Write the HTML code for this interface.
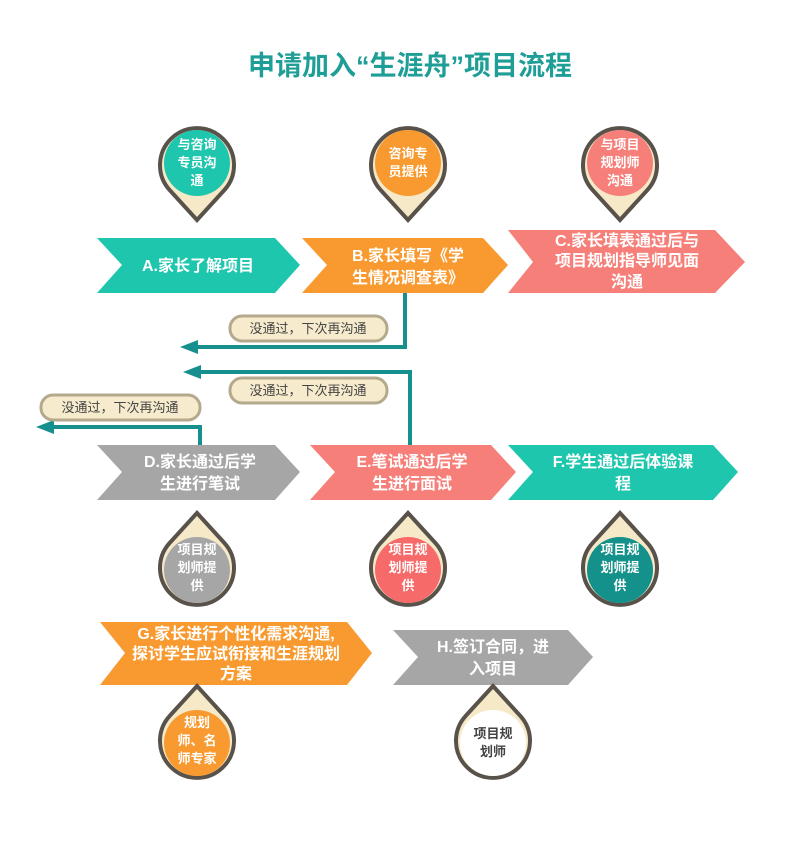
<!DOCTYPE html>
<html><head><meta charset="utf-8"><style>
body{margin:0;background:#fff}
svg text{font-family:"Liberation Sans","Noto Sans CJK SC",sans-serif;font-weight:bold}
</style></head><body>
<svg width="800" height="861" viewBox="0 0 800 861" xmlns="http://www.w3.org/2000/svg">
<text x="410" y="75" text-anchor="middle" font-size="27" fill="#1e9e96">申请加入“生涯舟”项目流程</text>
<g font-size="16" fill="#fff" text-anchor="middle">
<polygon points="97,238 275,238 300,265 275,293 97,293 122,265" fill="#1dc6ad"/>
<text x="198" y="271" fill="#fff">A.家长了解项目</text>
<polygon points="302,238 483,238 508,265 483,293 302,293 327,265" fill="#f89a2f"/>
<text x="408" y="261" fill="#fff">B.家长填写《学</text><text x="408" y="283" fill="#fff">生情况调查表》</text>
<polygon points="508,230 715,230 745,262 715,293 508,293 533,262" fill="#f77f7a"/>
<text x="627" y="246" fill="#fff">C.家长填表通过后与</text><text x="627" y="266" fill="#fff">项目规划指导师见面</text><text x="627" y="287" fill="#fff">沟通</text>
<polygon points="97,445 275,445 300,472 275,500 97,500 122,472" fill="#a6a6a6"/>
<text x="200" y="467" fill="#fff">D.家长通过后学</text><text x="200" y="489" fill="#fff">生进行笔试</text>
<polygon points="310,445 491,445 516,472 491,500 310,500 335,472" fill="#f77f7a"/>
<text x="412" y="467" fill="#fff">E.笔试通过后学</text><text x="412" y="489" fill="#fff">生进行面试</text>
<polygon points="508,445 713,445 738,472 713,500 508,500 533,472" fill="#1dc6ad"/>
<text x="623" y="467" fill="#fff">F.学生通过后体验课</text><text x="623" y="489" fill="#fff">程</text>
<polygon points="100,622 347,622 372,653 347,685 100,685 125,653" fill="#f89a2f"/>
<text x="236" y="639" fill="#fff">G.家长进行个性化需求沟通,</text><text x="236" y="659" fill="#fff">探讨学生应试衔接和生涯规划</text><text x="236" y="679" fill="#fff">方案</text>
<polygon points="393,630 568,630 593,657 568,685 393,685 418,657" fill="#a6a6a6"/>
<text x="493" y="652" fill="#fff">H.签订合同，进</text><text x="493" y="674" fill="#fff">入项目</text>
</g>
<g stroke="#16908f" stroke-width="4" fill="none">
<polyline points="405,293 405,347 195,347"/>
<polyline points="410,445 410,372 198,372"/>
<polyline points="200,445 200,427 50,427"/>
</g>
<g fill="#16908f">
<polygon points="180,347 198,340 198,354"/>
<polygon points="183,372 201,365 201,379"/>
<polygon points="36,427 54,420 54,434"/>
</g>
<g font-size="13" fill="#444" text-anchor="middle">
<rect x="230" y="316" width="157" height="25" rx="12" fill="#f6ebcd" stroke="#b5a98d" stroke-width="3"/>
<text x="308" y="333" style="font-weight:normal">没通过，下次再沟通</text>
<rect x="230" y="378" width="157" height="25" rx="12" fill="#f6ebcd" stroke="#b5a98d" stroke-width="3"/>
<text x="308" y="395" style="font-weight:normal">没通过，下次再沟通</text>
<rect x="41" y="395" width="159" height="25" rx="12" fill="#f6ebcd" stroke="#b5a98d" stroke-width="3"/>
<text x="120" y="412" style="font-weight:normal">没通过，下次再沟通</text>
</g>
<g stroke="#58524b" stroke-width="4" fill="#f5e9c8">
<path d="M197,220 L169.6,190 A37,37 0 1 1 224.4,190 Z"/>
<path d="M408,220 L380.6,190 A37,37 0 1 1 435.4,190 Z"/>
<path d="M620,220 L592.6,190 A37,37 0 1 1 647.4,190 Z"/>
<path d="M197,513 L169.6,543 A37,37 0 1 0 224.4,543 Z"/>
<path d="M408,513 L380.6,543 A37,37 0 1 0 435.4,543 Z"/>
<path d="M620,513 L592.6,543 A37,37 0 1 0 647.4,543 Z"/>
<path d="M197,686 L169.6,716 A37,37 0 1 0 224.4,716 Z"/>
<path d="M493,686 L465.6,716 A37,37 0 1 0 520.4,716 Z"/>
</g>
<g>
<circle cx="197" cy="163" r="33" fill="#1dc6ad"/>
<circle cx="408" cy="163" r="33" fill="#f89a2f"/>
<circle cx="620" cy="163" r="33" fill="#f77f7a"/>
<circle cx="197" cy="570" r="33" fill="#a6a6a6"/>
<circle cx="408" cy="570" r="33" fill="#f76a6a"/>
<circle cx="620" cy="570" r="33" fill="#14918a"/>
<circle cx="197" cy="743" r="33" fill="#f89a2f"/>
<circle cx="493" cy="743" r="33" fill="#ffffff"/>
</g>
<g font-size="13" fill="#fff" text-anchor="middle">
<text x="197" y="149">与咨询</text><text x="197" y="167">专员沟</text><text x="197" y="185">通</text>
<text x="408" y="158">咨询专</text><text x="408" y="176">员提供</text>
<text x="620" y="149">与项目</text><text x="620" y="167">规划师</text><text x="620" y="185">沟通</text>
<text x="197" y="554">项目规</text><text x="197" y="572">划师提</text><text x="197" y="590">供</text>
<text x="408" y="554">项目规</text><text x="408" y="572">划师提</text><text x="408" y="590">供</text>
<text x="620" y="554">项目规</text><text x="620" y="572">划师提</text><text x="620" y="590">供</text>
<text x="197" y="727">规划</text><text x="197" y="745">师、名</text><text x="197" y="763">师专家</text>
<text x="493" y="738" fill="#444">项目规</text><text x="493" y="756" fill="#444">划师</text>
</g>
</svg>
</body></html>
